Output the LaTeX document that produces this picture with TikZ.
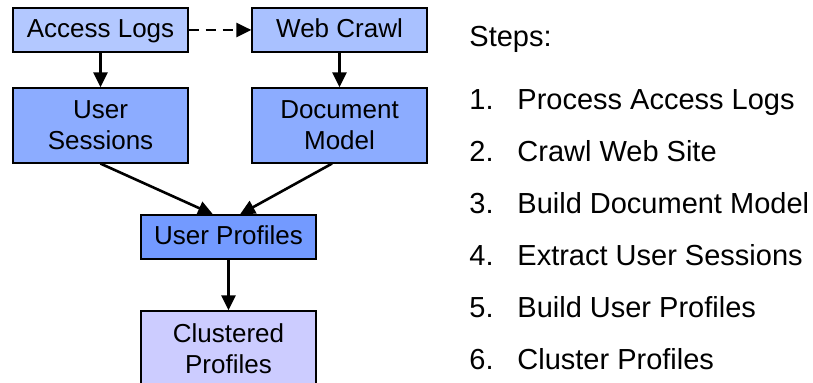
\documentclass[tikz,border=0pt]{standalone}
\usepackage{fontspec}
\setmainfont{Liberation Sans}
\usetikzlibrary{arrows.meta,positioning}
\definecolor{logblue}{HTML}{B3C8FF}
\definecolor{crawlblue}{HTML}{A9C1FF}
\definecolor{midblue}{HTML}{8CACFF}
\definecolor{deepblue}{HTML}{739AFF}
\definecolor{lilac}{HTML}{CCCCFF}

\begin{document}
\begin{tikzpicture}
    [x=0.5pt,y=-0.5pt,>={Triangle[length=7.5pt,width=7pt]},
     box/.style={draw,line width=0.6pt,align=center,inner sep=0pt,
        minimum width=87.5pt,font=\fontsize{13}{15.5}\selectfont},
     flat/.style={box,minimum height=22pt,text height=0.86em,text depth=0.14em},
     tall/.style={box,minimum height=37.5pt},
     flow/.style={line width=1.3pt,->},
     stepline/.style={anchor=base west,inner sep=0pt,font=\fontsize{14.5}{17}\selectfont}]

    \useasboundingbox (0,0) rectangle (813,383);
    \clip (0,0) rectangle (813,383);

    \node[flat,fill=logblue] (logs) at (100.5,30) {Access Logs};
    \node[flat,fill=crawlblue] (crawl) at (339.5,30) {Web Crawl};
    \node[tall,fill=midblue] (sessions) at (100.5,125.5) {User\\Sessions};
    \node[tall,fill=midblue] (docmodel) at (339.5,125.5) {Document\\Model};
    \node[flat,fill=deepblue] (profiles) at (228.5,237) {User Profiles};
    \node[tall,fill=lilac] (clusters) at (228.5,348.5) {Clustered\\Profiles};

    \draw[flow] (logs) -- (sessions);
    \draw[flow] (crawl) -- (docmodel);
    \draw[flow,dashed,dash pattern=on 5pt off 3.5pt] (logs) -- (crawl);
    \draw[flow] (sessions.south) -- (profiles.north -| 213,0);
    \draw[flow] (docmodel.south -| 332,0) -- (profiles.north -| 240,0);
    \draw[flow] (profiles) -- (clusters);

    % list of steps
    \node[stepline] (title) at (469,47) {Steps:};
    \foreach \n/\txt [count=\i] in {1/Process Access Logs,2/Crawl Web Site,
        3/Build Document Model,4/Extract User Sessions,5/Build User Profiles,
        6/Cluster Profiles}
    {
        \node[stepline] (num\n) at (469,{110+51.9*(\i-1)}) {\n.};
        \node[stepline] (item\n) at (517,{110+51.9*(\i-1)}) {\txt};
    }

\end{tikzpicture}
\end{document}
